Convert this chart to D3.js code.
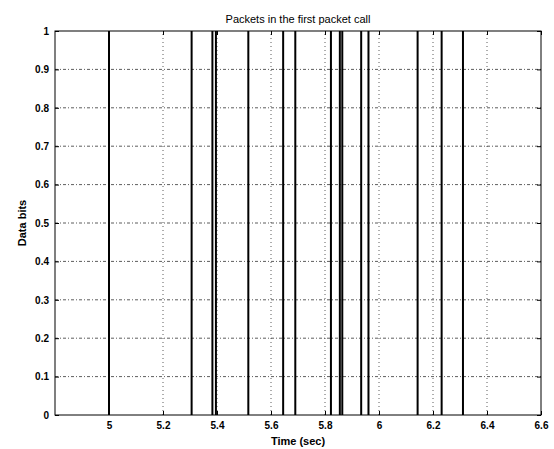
<!DOCTYPE html>
<html>
<head>
<meta charset="utf-8">
<script src="https://cdn.jsdelivr.net/npm/d3@7"></script>
<style>
  body { margin: 0; background: #fff; }
  svg { display: block; font-family: "Liberation Sans", Arial, sans-serif; }
</style>
</head>
<body>
<div id="chart"></div>
<script>
// packet arrival times (sec)
var packetTimes = [5.0, 5.306, 5.383, 5.396, 5.516, 5.645, 5.690, 5.822,
                   5.855, 5.864, 5.934, 5.961, 6.143, 6.232, 6.311];
var xTicks = [5, 5.2, 5.4, 5.6, 5.8, 6, 6.2, 6.4, 6.6];
var yTicks = [0, 0.1, 0.2, 0.3, 0.4, 0.5, 0.6, 0.7, 0.8, 0.9, 1];

var width = 554, height = 449;
var margin = { top: 31, right: 13, bottom: 34, left: 55 };

var svg = d3.select("#chart").append("svg")
    .attr("width", width)
    .attr("height", height);

var x = d3.scaleLinear().domain([4.8, 6.6]).range([margin.left, width - margin.right]);
var y = d3.scaleLinear().domain([0, 1]).range([height - margin.bottom, margin.top]);

// grid
svg.append("g").selectAll("line")
    .data(yTicks.slice(1, -1))
    .enter().append("line")
    .attr("x1", x.range()[0]).attr("x2", x.range()[1])
    .attr("y1", d => y(d)).attr("y2", d => y(d))
    .attr("stroke", "#333").attr("stroke-width", 0.8)
    .attr("stroke-dasharray", "3,2,1,2");

svg.append("g").selectAll("line")
    .data(xTicks.slice(0, -1))
    .enter().append("line")
    .attr("x1", d => x(d)).attr("x2", d => x(d))
    .attr("y1", y(0)).attr("y2", y(1))
    .attr("stroke", "#333").attr("stroke-width", 0.8)
    .attr("stroke-dasharray", "1,3");

// packets
svg.append("g").selectAll("line")
    .data(packetTimes)
    .enter().append("line")
    .attr("x1", d => x(d)).attr("x2", d => x(d))
    .attr("y1", y(0)).attr("y2", y(1))
    .attr("stroke", "#000").attr("stroke-width", 2);

// axes (matlab style, ticks inward, box)
var xAxis = d3.axisBottom(x).tickValues(xTicks).tickSizeInner(-4).tickSizeOuter(0).tickPadding(7)
    .tickFormat(d3.format("~g"));
var xAxisTop = d3.axisTop(x).tickValues(xTicks).tickSizeInner(-4).tickSizeOuter(0).tickFormat("");
var yAxis = d3.axisLeft(y).tickValues(yTicks).tickSizeInner(-4).tickSizeOuter(0).tickPadding(6)
    .tickFormat(d3.format("~g"));
var yAxisRight = d3.axisRight(y).tickValues(yTicks).tickSizeInner(-4).tickSizeOuter(0).tickFormat("");

function styleAxis(g) {
  g.select(".domain").remove();
  g.selectAll(".tick line").attr("stroke", "#000");
  g.selectAll("text").attr("fill", "#000")
    .style("font-size", "10px").style("font-weight", "bold");
}

svg.append("g").attr("transform", `translate(0,${y(0)})`).call(xAxis).call(styleAxis);
svg.append("g").attr("transform", `translate(0,${y(1)})`).call(xAxisTop).call(styleAxis);
svg.append("g").attr("transform", `translate(${x(4.8)},0)`).call(yAxis).call(styleAxis);
svg.append("g").attr("transform", `translate(${x(6.6)},0)`).call(yAxisRight).call(styleAxis);

svg.append("rect")
    .attr("x", x(4.8)).attr("y", y(1))
    .attr("width", x(6.6) - x(4.8)).attr("height", y(0) - y(1))
    .attr("fill", "none").attr("stroke", "#000").attr("stroke-width", 1);

// labels
svg.append("text")
    .attr("x", (x.range()[0] + x.range()[1]) / 2).attr("y", 23)
    .attr("text-anchor", "middle")
    .style("font-size", "11px")
    .text("Packets in the first packet call");

svg.append("text")
    .attr("x", (x.range()[0] + x.range()[1]) / 2).attr("y", 445)
    .attr("text-anchor", "middle")
    .style("font-size", "11px").style("font-weight", "bold")
    .text("Time (sec)");

svg.append("text")
    .attr("transform", `translate(26,${(y(0) + y(1)) / 2}) rotate(-90)`)
    .attr("text-anchor", "middle")
    .style("font-size", "11px").style("font-weight", "bold")
    .text("Data bits");
</script>
</body>
</html>
